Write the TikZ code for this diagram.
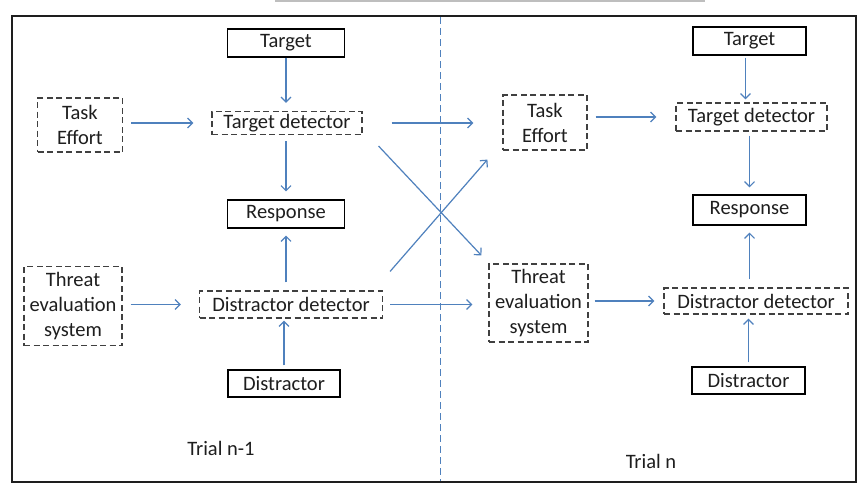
\documentclass[tikz,border=0pt]{standalone}
\usepackage{fontspec}
\setmainfont{Carlito}
\usetikzlibrary{arrows.meta,calc}
\definecolor{arrblue}{HTML}{4F81BD}
\definecolor{boxgray}{HTML}{404040}
\definecolor{txt}{HTML}{1E1E1E}
\tikzset{
  every node/.style={font=\fontsize{20.5}{25}\selectfont, text=txt, inner sep=0pt, align=center},
  solidbox/.style={draw=black, line width=1.1pt},
  dashbox/.style={draw=boxgray, line width=1.2pt, dash pattern=on 6pt off 3.5pt},
  arr/.style={draw=arrblue, line width=1.2pt, -{Straight Barb[length=5pt,width=10pt]}},
}
\begin{document}
\begin{tikzpicture}[x=1pt,y=-1pt]
\useasboundingbox (0,0) rectangle (858,485);
\fill[white] (0,0) rectangle (858,485);
\draw[line width=1.5pt, draw={rgb,255:red,190;green,190;blue,190}] (275,0.8) -- (705,0.8);
\draw[line width=1.8pt, draw={rgb,255:red,30;green,30;blue,30}] (12,16) rectangle (856,482);
\draw[arrblue, line width=1pt, dash pattern=on 7pt off 4pt] (440,17) -- (440,481);

% left panel
\node[solidbox, minimum width=117pt, minimum height=28pt] (tgt) at (286,43) {Target};
\node[dashbox, minimum width=85pt, minimum height=54pt] (te) at (80,125) {Task\\Effort};
\node[dashbox, minimum width=150pt, minimum height=23pt] (tdet) at (287,123) {Target detector};
\node[solidbox, minimum width=117pt, minimum height=28pt] (resp) at (286,214) {Response};
\node[dashbox, minimum width=98pt, minimum height=79pt] (thr) at (73,306) {Threat\\evaluation\\system};
\node[dashbox, minimum width=183pt, minimum height=27pt] (ddet) at (291,304.5) {Distractor detector};
\node[solidbox, minimum width=112pt, minimum height=27pt] (dist) at (284,383.5) {Distractor};
\node (t1) at (221,448) {Trial n-1};

% right panel
\node[solidbox, minimum width=113pt, minimum height=28pt] (rtgt) at (749.5,41) {Target};
\node[dashbox, minimum width=84pt, minimum height=55pt] (rte) at (545,122.5) {Task\\Effort};
\node[dashbox, minimum width=151pt, minimum height=28pt] (rtdet) at (751.5,117) {Target detector};
\node[solidbox, minimum width=113pt, minimum height=30pt] (rresp) at (749.5,210) {Response};
\node[dashbox, minimum width=99pt, minimum height=78pt] (rthr) at (538.5,303) {Threat\\evaluation\\system};
\node[dashbox, minimum width=184pt, minimum height=26pt] (rddet) at (756,301) {Distractor detector};
\node[solidbox, minimum width=113pt, minimum height=27pt] (rdist) at (748.5,380.5) {Distractor};
\node (t2) at (651,461) {Trial n};

% left arrows
\draw[arr, shorten >=8pt] (tgt.south) -- (tgt.south |- tdet.north);
\draw[arr, shorten <=8pt, shorten >=18pt] (tdet.west -| te.east) -- (tdet.west);
\draw[arr, shorten <=6pt, shorten >=8pt] (resp.north |- tdet.south) -- (resp.north);
\draw[arr, shorten <=8pt, shorten >=7pt] (resp.south |- ddet.north) -- (resp.south);
\draw[arr, shorten <=8pt, shorten >=18pt] (ddet.west -| thr.east) -- (ddet.west);
\draw[arr, shorten <=4pt, shorten >=2pt] (dist.north) -- (dist.north |- ddet.south);

% cross arrows
\draw[arr, shorten <=29pt, shorten >=29pt] (tdet.east) -- (tdet.east -| rte.west);
\draw[arr] ($(tdet.south east)+(16,11)$) -- ($(rthr.north west)+(-7,-8)$);
\draw[arr] ($(ddet.north east)+(7,-19)$) -- ($(rte.south west)+(-15,9)$);
\draw[arr, shorten <=7pt, shorten >=16pt] (ddet.east) -- (ddet.east -| rthr.west);

% right arrows
\draw[arr, shorten <=2pt, shorten >=3pt] ([xshift=-4pt]rtgt.south) -- ([xshift=-4pt]rtgt.south |- rtdet.north);
\draw[arr, shorten <=8pt, shorten >=19pt] (rtdet.west -| rte.east) -- (rtdet.west);
\draw[arr, shorten <=4pt, shorten >=7pt] (rresp.north |- rtdet.south) -- (rresp.north);
\draw[arr, shorten <=8pt, shorten >=7pt] (rresp.south |- rddet.north) -- (rresp.south);
\draw[arr, shorten <=6pt, shorten >=9pt] (rddet.west -| rthr.east) -- (rddet.west);
\draw[arr, shorten <=4pt, shorten >=4pt] (rdist.north) -- (rdist.north |- rddet.south);
\end{tikzpicture}
\end{document}
